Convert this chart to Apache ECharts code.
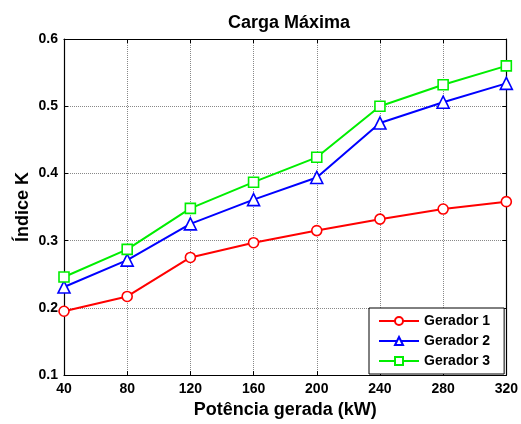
<!DOCTYPE html>
<html>
<head>
<meta charset="utf-8">
<script src="https://cdn.jsdelivr.net/npm/echarts@6/dist/echarts.min.js"></script>
<style>
  html, body { margin: 0; padding: 0; background: #fff; }
  #main { width: 521px; height: 424px; }
</style>
</head>
<body>
<div id="main"></div>
<script>
// potência gerada (kW)
var potencia = [40, 80, 120, 160, 200, 240, 280, 320];
var gerador1 = [0.195, 0.217, 0.275, 0.297, 0.315, 0.332, 0.347, 0.358];
var gerador2 = [0.231, 0.271, 0.325, 0.361, 0.394, 0.475, 0.506, 0.534];
var gerador3 = [0.246, 0.287, 0.348, 0.387, 0.424, 0.500, 0.532, 0.560];
var nomes = ['Gerador 1', 'Gerador 2', 'Gerador 3'];

var font = '"Liberation Sans", Arial, sans-serif';

function pares(ys) {
    return potencia.map(function (x, i) { return [x, ys[i]]; });
}

function serie(nome, ys, cor, simbolo, tam) {
    return {
        name: nome,
        type: 'line',
        data: pares(ys),
        symbol: simbolo,
        symbolSize: tam,
        showAllSymbol: true,
        lineStyle: { color: cor, width: 2 },
        itemStyle: { color: '#fff', borderColor: cor, borderWidth: 1.6 },
        emphasis: { disabled: true },
        animation: false
    };
}

var eixoComum = {
    axisLine: { show: true, onZero: false, lineStyle: { color: '#000', width: 1.2 } },
    axisTick: { show: true, inside: true, length: 4, lineStyle: { color: '#000' } }
};

var myChart = echarts.init(document.getElementById('main'));

var option = {
    backgroundColor: '#fff',
    animation: false,
    title: {
        text: 'Carga Máxima',
        left: 284,
        textAlign: 'center',
        top: 9,
        textStyle: { fontFamily: font, fontSize: 18, fontWeight: 'bold', color: '#000' }
    },
    grid: { left: 64, right: 14, top: 39, bottom: 44 },
    legend: {
        data: nomes,
        orient: 'vertical',
        left: 369,
        top: 308,
        padding: [6, 14, 6, 9],
        itemWidth: 40,
        itemHeight: 10,
        itemGap: 6,
        backgroundColor: '#fff',
        borderColor: '#000',
        borderWidth: 1,
        borderRadius: 0,
        textStyle: { fontFamily: font, fontSize: 14, fontWeight: 'bold', color: '#000', padding: [0, 0, 0, 0] }
    },
    xAxis: [
        Object.assign({
            type: 'value', min: 40, max: 320, interval: 40,
            name: 'Potência gerada (kW)',
            nameLocation: 'middle',
            nameGap: 22,
            nameTextStyle: { fontFamily: font, fontSize: 18, fontWeight: 'bold', color: '#000' },
            axisLabel: { fontFamily: font, fontSize: 14, fontWeight: 'bold', color: '#000', margin: 7 },
            splitLine: { show: true, lineStyle: { color: '#888', type: 'dotted', width: 1 } }
        }, eixoComum),
        Object.assign({
            type: 'value', min: 40, max: 320, interval: 40, position: 'top',
            axisLabel: { show: false }, splitLine: { show: false }
        }, eixoComum)
    ],
    yAxis: [
        Object.assign({
            type: 'value', min: 0.1, max: 0.6, interval: 0.1,
            name: 'Índice K',
            nameLocation: 'middle',
            nameGap: 32,
            nameMoveOverlap: false,
            nameTextStyle: { fontFamily: font, fontSize: 18, fontWeight: 'bold', color: '#000' },
            axisLabel: {
                fontFamily: font, fontSize: 14, fontWeight: 'bold', color: '#000', margin: 6,
                formatter: function (v) { return v.toFixed(1); }
            },
            splitLine: { show: true, lineStyle: { color: '#888', type: 'dotted', width: 1 } }
        }, eixoComum),
        Object.assign({
            type: 'value', min: 0.1, max: 0.6, interval: 0.1, position: 'right',
            axisLabel: { show: false }, splitLine: { show: false }
        }, eixoComum)
    ],
    series: [
        serie(nomes[0], gerador1, '#ff0000', 'circle', 10),
        serie(nomes[1], gerador2, '#0000ff', 'triangle', 12),
        serie(nomes[2], gerador3, '#00ee00', 'rect', 10)
    ]
};
myChart.setOption(option);
</script>
</body>
</html>
